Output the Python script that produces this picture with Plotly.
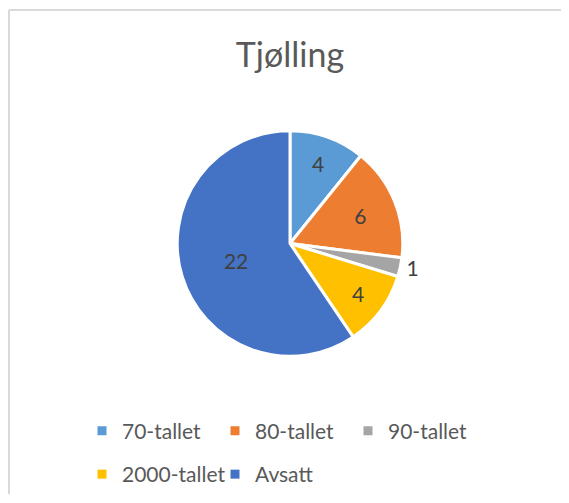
import plotly.graph_objects as go

categories = ["70-tallet", "80-tallet", "90-tallet", "2000-tallet", "Avsatt"]
values = [4, 6, 1, 4, 22]
colors = ["#5B9BD5", "#ED7D31", "#A5A5A5", "#FFC000", "#4472C4"]
text_positions = ["inside", "inside", "outside", "inside", "inside"]
legend_rows = ["legend", "legend", "legend", "legend2", "legend2"]

# page body has an 8px margin, so the figure starts at (8, 8)
OFF = 8
W, H = 569 - 2 * OFF, 503 - 2 * OFF
cx, cy, r = 290 - OFF, 244 - OFF, 113

fig = go.Figure()
fig.add_trace(go.Pie(
    labels=categories,
    values=values,
    sort=False,
    direction="clockwise",
    rotation=0,
    marker=dict(colors=colors, line=dict(color="white", width=3)),
    textinfo="value",
    textposition=text_positions,
    insidetextorientation="horizontal",
    textfont=dict(family="Lato", size=21, color="#404040"),
    outsidetextfont=dict(family="Lato", size=21, color="#404040"),
    domain=dict(x=[(cx - r) / W, (cx + r) / W], y=[1 - (cy + r) / H, 1 - (cy - r) / H]),
    showlegend=False,
    hoverinfo="label+value",
))

for cat, col, lg in zip(categories, colors, legend_rows):
    fig.add_trace(go.Scatter(
        x=[None], y=[None], mode="markers", name=cat,
        marker=dict(symbol="square", size=9, color=col),
        legend=lg, showlegend=True, hoverinfo="skip",
    ))

legend_common = dict(orientation="h", xanchor="left", yanchor="middle",
                     entrywidth=88, entrywidthmode="pixels",
                     font=dict(family="Lato", size=21, color="#595959"),
                     bgcolor="rgba(0,0,0,0)")

top_y = 1 - (10 - OFF) / H
left_x = 1 / W

fig.update_layout(
    width=W, height=H,
    margin=dict(l=0, r=0, t=0, b=0),
    paper_bgcolor="white",
    plot_bgcolor="white",
    xaxis=dict(visible=False),
    yaxis=dict(visible=False),
    title=dict(text="Tjølling", x=cx / W, xanchor="center", y=1 - (55 - OFF) / H, yanchor="middle",
               font=dict(family="Lato", size=34, color="#595959")),
    legend=dict(x=(82 - OFF) / W, y=1 - (431 - OFF) / H, **legend_common),
    legend2=dict(x=(82 - OFF) / W, y=1 - (475 - OFF) / H, **legend_common),
    shapes=[
        dict(type="line", xref="paper", yref="paper", x0=left_x, x1=1.0, y0=top_y, y1=top_y,
             line=dict(color="#D9D9D9", width=2), layer="below"),
        dict(type="line", xref="paper", yref="paper", x0=left_x, x1=left_x, y0=0.0, y1=top_y,
             line=dict(color="#D9D9D9", width=2), layer="below"),
    ],
)

fig.write_html("out.html")
